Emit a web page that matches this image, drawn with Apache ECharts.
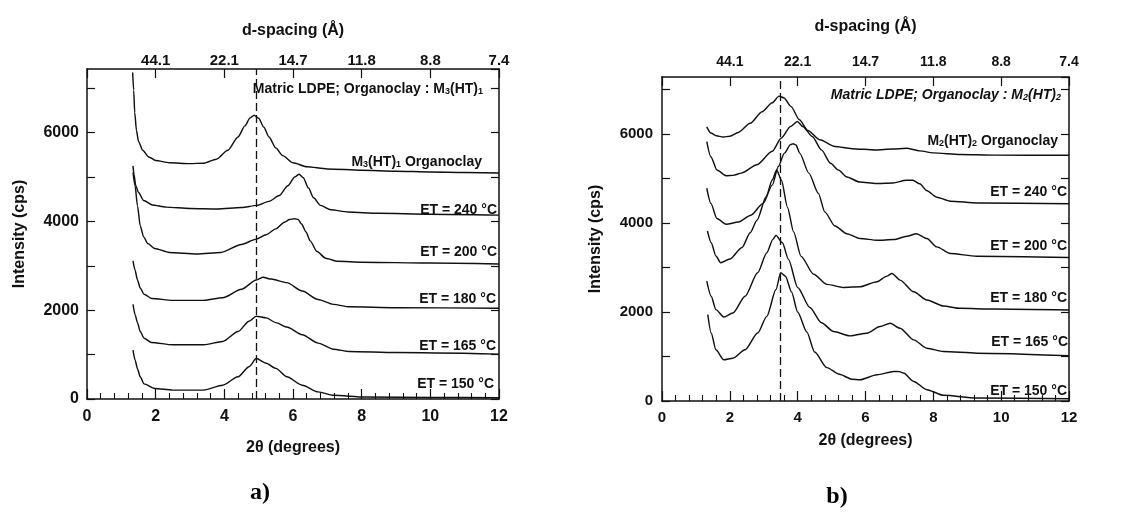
<!DOCTYPE html>
<html><head><meta charset="utf-8">
<script src="https://cdn.jsdelivr.net/npm/echarts@6/dist/echarts.min.js"></script>
<style>html,body{margin:0;padding:0;background:#fff}#c{width:1133px;height:513px}</style>
</head><body><div id="c"></div>
<script>
// ---- tick labels ----
const twoThetaTicks = [0, 2, 4, 6, 8, 10, 12];
const dSpacingLabels = ['', '44.1', '22.1', '14.7', '11.8', '8.8', '7.4'];
const intensityLabels = [0, 2000, 4000, 6000];

// ---- panel a: matrix LDPE, organoclay M3(HT)1 ----
const a_org = [[1.33,7350],[1.36,6950],[1.39,6450],[1.44,6050],[1.5,5800],[1.62,5600],[1.8,5450],[2.0,5370],[2.4,5320],[3.0,5300],[3.4,5310],[3.77,5400],[4.1,5600],[4.4,5900],[4.6,6150],[4.75,6330],[4.87,6390],[5.0,6320],[5.15,6120],[5.3,5900],[5.5,5650],[5.7,5480],[6.0,5320],[6.4,5230],[7.0,5180],[8.0,5150],[9.0,5130],[10.0,5110],[11.0,5100],[12.0,5090]];
const a_240 = [[1.34,5250],[1.37,5050],[1.42,4800],[1.5,4650],[1.65,4470],[1.9,4370],[2.3,4320],[3.0,4290],[3.8,4280],[4.5,4310],[4.95,4360],[5.3,4450],[5.6,4580],[5.85,4800],[6.05,5000],[6.18,5060],[6.3,4980],[6.45,4750],[6.6,4530],[6.8,4360],[7.1,4260],[7.6,4210],[8.5,4180],[10,4160],[12,4140]];
const a_200 = [[1.34,5100],[1.4,4800],[1.47,4350],[1.55,3900],[1.65,3650],[1.77,3500],[1.97,3390],[2.4,3300],[3.2,3265],[3.9,3300],[4.5,3480],[4.93,3600],[5.22,3700],[5.5,3830],[5.75,3980],[5.9,4040],[6.05,4060],[6.15,4040],[6.25,3940],[6.38,3760],[6.5,3560],[6.7,3320],[6.95,3170],[7.3,3100],[8,3080],[10,3060],[12,3040]];
const a_180 = [[1.34,3110],[1.4,2900],[1.47,2680],[1.55,2500],[1.66,2360],[1.88,2265],[2.5,2220],[3.4,2220],[3.95,2280],[4.5,2470],[4.93,2680],[5.13,2740],[5.36,2700],[5.82,2620],[6.27,2430],[6.73,2240],[7.18,2130],[7.64,2075],[9,2055],[12,2045]];
const a_165 = [[1.34,2130],[1.4,1900],[1.47,1720],[1.55,1520],[1.66,1370],[1.88,1273],[2.5,1220],[3.4,1220],[3.95,1295],[4.4,1520],[4.72,1750],[4.93,1864],[5.22,1826],[5.5,1720],[5.82,1620],[6.27,1447],[6.73,1258],[7.18,1121],[7.64,1068],[9,1045],[12,1010]];
const a_150 = [[1.34,1100],[1.4,880],[1.47,680],[1.55,500],[1.66,340],[1.97,235],[2.5,200],[3.4,200],[3.95,310],[4.4,500],[4.72,727],[4.93,910],[5.22,803],[5.5,690],[5.82,500],[6.27,311],[6.73,160],[7.18,83],[8.1,45],[10,35],[12,30]];
const a_peakRef = 4.93;

// ---- panel b: matrix LDPE, organoclay M2(HT)2 ----
const b_org = [[1.32,6160],[1.44,6020],[1.6,5960],[1.8,5930],[2.0,5950],[2.25,6035],[2.6,6240],[2.95,6500],[3.25,6700],[3.45,6850],[3.6,6810],[3.8,6620],[4.05,6320],[4.3,6080],[4.65,5870],[5.1,5720],[5.6,5670],[6.3,5640],[6.8,5660],[7.2,5680],[7.6,5620],[8.0,5575],[8.8,5540],[9.8,5525],[12,5520]];
const b_240 = [[1.32,5830],[1.44,5490],[1.62,5190],[1.89,5060],[2.1,5070],[2.34,5120],[2.8,5310],[3.25,5610],[3.52,5910],[3.79,6170],[3.99,6280],[4.15,6170],[4.43,5945],[4.7,5643],[4.97,5340],[5.2,5190],[5.45,5034],[5.83,4920],[6.32,4885],[6.81,4900],[7.2,4958],[7.4,4960],[7.6,4880],[7.8,4730],[8.1,4580],[8.5,4490],[9.3,4450],[12,4430]];
const b_200 = [[1.32,4780],[1.44,4440],[1.62,4100],[1.89,3970],[2.25,4020],[2.62,4175],[2.98,4440],[3.25,4850],[3.43,5270],[3.61,5570],[3.79,5760],[3.87,5780],[3.95,5750],[4.06,5570],[4.33,5120],[4.61,4665],[4.8,4250],[5.1,3930],[5.45,3760],[5.84,3650],[6.34,3612],[6.83,3627],[7.22,3700],[7.5,3760],[7.81,3650],[8.1,3463],[8.5,3313],[9.28,3254],[12,3224]];
const b_180 = [[1.34,3820],[1.45,3556],[1.59,3256],[1.73,3105],[2.0,3190],[2.36,3450],[2.6,3780],[2.8,4061],[3.07,4589],[3.25,4965],[3.38,5191],[3.52,4965],[3.7,4350],[3.88,3800],[4.1,3250],[4.47,2850],[4.86,2620],[5.35,2552],[5.84,2567],[6.34,2679],[6.63,2806],[6.78,2866],[7.02,2716],[7.42,2455],[7.81,2269],[8.3,2134],[8.79,2082],[9.77,2067],[12,2045]];
const b_165 = [[1.32,2692],[1.45,2353],[1.59,2053],[1.82,1887],[2.09,1977],[2.45,2353],[2.82,2880],[3.09,3331],[3.27,3632],[3.36,3722],[3.55,3556],[3.73,3180],[4.0,2550],[4.36,2100],[4.7,1760],[5.06,1560],[5.55,1463],[6.04,1522],[6.43,1672],[6.73,1746],[7.02,1634],[7.42,1373],[7.81,1187],[8.3,1112],[9.28,1075],[12,1020]];
const b_150 = [[1.35,1940],[1.45,1526],[1.59,1150],[1.82,925],[2.09,962],[2.45,1150],[2.82,1526],[3.09,1902],[3.36,2504],[3.5,2880],[3.64,2805],[3.82,2450],[4.0,2000],[4.27,1550],[4.5,1100],[4.86,750],[5.23,600],[5.6,490],[5.84,478],[6.34,590],[6.83,664],[7.0,660],[7.12,627],[7.42,440],[7.81,254],[8.3,127],[9.28,67],[12,50]];
const b_peakRef = 3.48;

// ---- annotation texts ----
const a_texts = ['Matric LDPE; Organoclay : M{s|3}(HT){s|1}', 'M{s|3}(HT){s|1} Organoclay', 'ET = 240 °C', 'ET = 200 °C', 'ET = 180 °C', 'ET = 165 °C', 'ET = 150 °C'];
const b_texts = ['Matric LDPE; Organoclay : M{s|2}(HT){s|2}', 'M{s|2}(HT){s|2} Organoclay', 'ET = 240 °C', 'ET = 200 °C', 'ET = 180 °C', 'ET = 165 °C', 'ET = 150 °C'];

const FONT = "'Liberation Sans', Arial, sans-serif";
const INK = '#111';

function bottomAxis(gi, labelSize, nameGap, labelMargin) {
  return {
    gridIndex: gi, type: 'value', position: 'bottom', min: 0, max: 12, interval: 2,
    name: '2θ (degrees)', nameLocation: 'middle', nameGap: nameGap,
    nameTextStyle: { fontFamily: FONT, fontWeight: 'bold', fontSize: 16, color: INK },
    axisLine: { show: true, onZero: false, lineStyle: { color: INK, width: 1.5 } },
    axisTick: { show: true, inside: true, length: 10, lineStyle: { color: INK, width: 1.2 } },
    minorTick: { show: true, splitNumber: 5, length: 6, lineStyle: { color: INK, width: 1.1 } },
    axisLabel: { margin: labelMargin, fontFamily: FONT, fontWeight: 'bold', fontSize: labelSize, color: INK },
    splitLine: { show: false }
  };
}
function topAxis(gi, labelSize, nameGap, labelMargin) {
  return {
    gridIndex: gi, type: 'value', position: 'top', min: 0, max: 12, interval: 2,
    name: 'd-spacing (Å)', nameLocation: 'middle', nameGap: nameGap,
    nameTextStyle: { fontFamily: FONT, fontWeight: 'bold', fontSize: 16, color: INK },
    axisLine: { show: true, onZero: false, lineStyle: { color: INK, width: 1.5 } },
    axisTick: { show: true, inside: true, length: 9, lineStyle: { color: INK, width: 1.2 } },
    axisLabel: { margin: labelMargin, fontFamily: FONT, fontWeight: 'bold', fontSize: labelSize, color: INK,
      formatter: v => { const i = twoThetaTicks.indexOf(Math.round(v * 100) / 100); return i >= 0 ? dSpacingLabels[i] : ''; } },
    splitLine: { show: false }
  };
}
function leftAxis(gi, max, labelSize, nameGap, labelMargin) {
  return {
    gridIndex: gi, type: 'value', position: 'left', min: 0, max: max, interval: 1000,
    name: 'Intensity (cps)', nameLocation: 'middle', nameGap: nameGap, nameRotate: 90,
    nameTextStyle: { fontFamily: FONT, fontWeight: 'bold', fontSize: 16, color: INK },
    axisLine: { show: true, onZero: false, lineStyle: { color: INK, width: 1.5 } },
    axisTick: { show: true, inside: true, length: 8, lineStyle: { color: INK, width: 1.2 } },
    axisLabel: { margin: labelMargin, showMaxLabel: false, fontFamily: FONT, fontWeight: 'bold', fontSize: labelSize, color: INK,
      formatter: v => intensityLabels.indexOf(v) >= 0 ? String(v) : '' },
    splitLine: { show: false }
  };
}
function rightAxis(gi, max) {
  return {
    gridIndex: gi, type: 'value', position: 'right', min: 0, max: max, interval: 1000,
    axisLine: { show: true, onZero: false, lineStyle: { color: INK, width: 1.5 } },
    axisTick: { show: true, inside: true, length: 8, lineStyle: { color: INK, width: 1.2 } },
    axisLabel: { show: false }, splitLine: { show: false }
  };
}
function curve(data, xi, yi, ref) {
  const s = {
    type: 'line', data: data, xAxisIndex: xi, yAxisIndex: yi, showSymbol: false, symbol: 'none',
    smooth: 0.25, smoothMonotone: 'x', silent: true,
    lineStyle: { color: INK, width: 1.45 }
  };
  if (ref !== undefined) {
    s.markLine = { silent: true, symbol: 'none', label: { show: false },
      lineStyle: { color: INK, width: 1.3, type: [8, 4] }, data: [{ xAxis: ref }] };
  }
  return s;
}
function note(text, x, y, size, italic) {
  return { type: 'text', x: x, y: y, z: 100,
    style: { text: text, align: 'right', verticalAlign: 'middle', fill: INK,
      font: (italic ? 'italic ' : '') + 'bold ' + size + 'px ' + FONT,
      rich: { s: { fontSize: Math.round(size * 0.65), fontWeight: 'bold', fontStyle: italic ? 'italic' : 'normal', fontFamily: FONT, verticalAlign: 'bottom', padding: [6, 0, 0, 0], fill: INK } } } };
}

const aNoteX = [483, 482, 497, 497, 496, 496, 494];
const aNoteY = [89, 162, 210, 252, 299, 346, 384];
const bNoteX = [1061, 1058, 1067, 1067, 1067, 1068, 1067];
const bNoteY = [95, 141, 192, 246, 298, 342, 391];

const graphics = [];
a_texts.forEach((t, i) => graphics.push(note(t, aNoteX[i], aNoteY[i], 14, false)));
b_texts.forEach((t, i) => graphics.push(note(t, bNoteX[i], bNoteY[i], 14, i === 0)));
graphics.push({ type: 'text', x: 260, y: 493, style: { text: 'a)', align: 'center', verticalAlign: 'middle', fill: '#000', font: "bold 24px 'Liberation Serif', 'Times New Roman', serif" } });
graphics.push({ type: 'text', x: 837, y: 497, style: { text: 'b)', align: 'center', verticalAlign: 'middle', fill: '#000', font: "bold 24px 'Liberation Serif', 'Times New Roman', serif" } });

const chart = echarts.init(document.getElementById('c'), null, { renderer: 'canvas' });
chart.setOption({
  backgroundColor: '#fff',
  animation: false,
  grid: [
    { left: 87, top: 69, width: 412, height: 330 },
    { left: 662, top: 77, width: 407, height: 324 }
  ],
  xAxis: [
    bottomAxis(0, 16, 41, 10), topAxis(0, 15, 30, 1),
    bottomAxis(1, 15, 32, 9), topAxis(1, 14, 42, 8)
  ],
  yAxis: [
    leftAxis(0, 7430, 16, 59, 8), rightAxis(0, 7430),
    leftAxis(1, 7280, 15, 58, 9), rightAxis(1, 7280)
  ],
  series: [
    curve(a_org, 0, 0, a_peakRef), curve(a_240, 0, 0), curve(a_200, 0, 0),
    curve(a_180, 0, 0), curve(a_165, 0, 0), curve(a_150, 0, 0),
    curve(b_org, 2, 2, b_peakRef), curve(b_240, 2, 2), curve(b_200, 2, 2),
    curve(b_180, 2, 2), curve(b_165, 2, 2), curve(b_150, 2, 2)
  ],
  graphic: graphics
});
</script>
</body></html>
